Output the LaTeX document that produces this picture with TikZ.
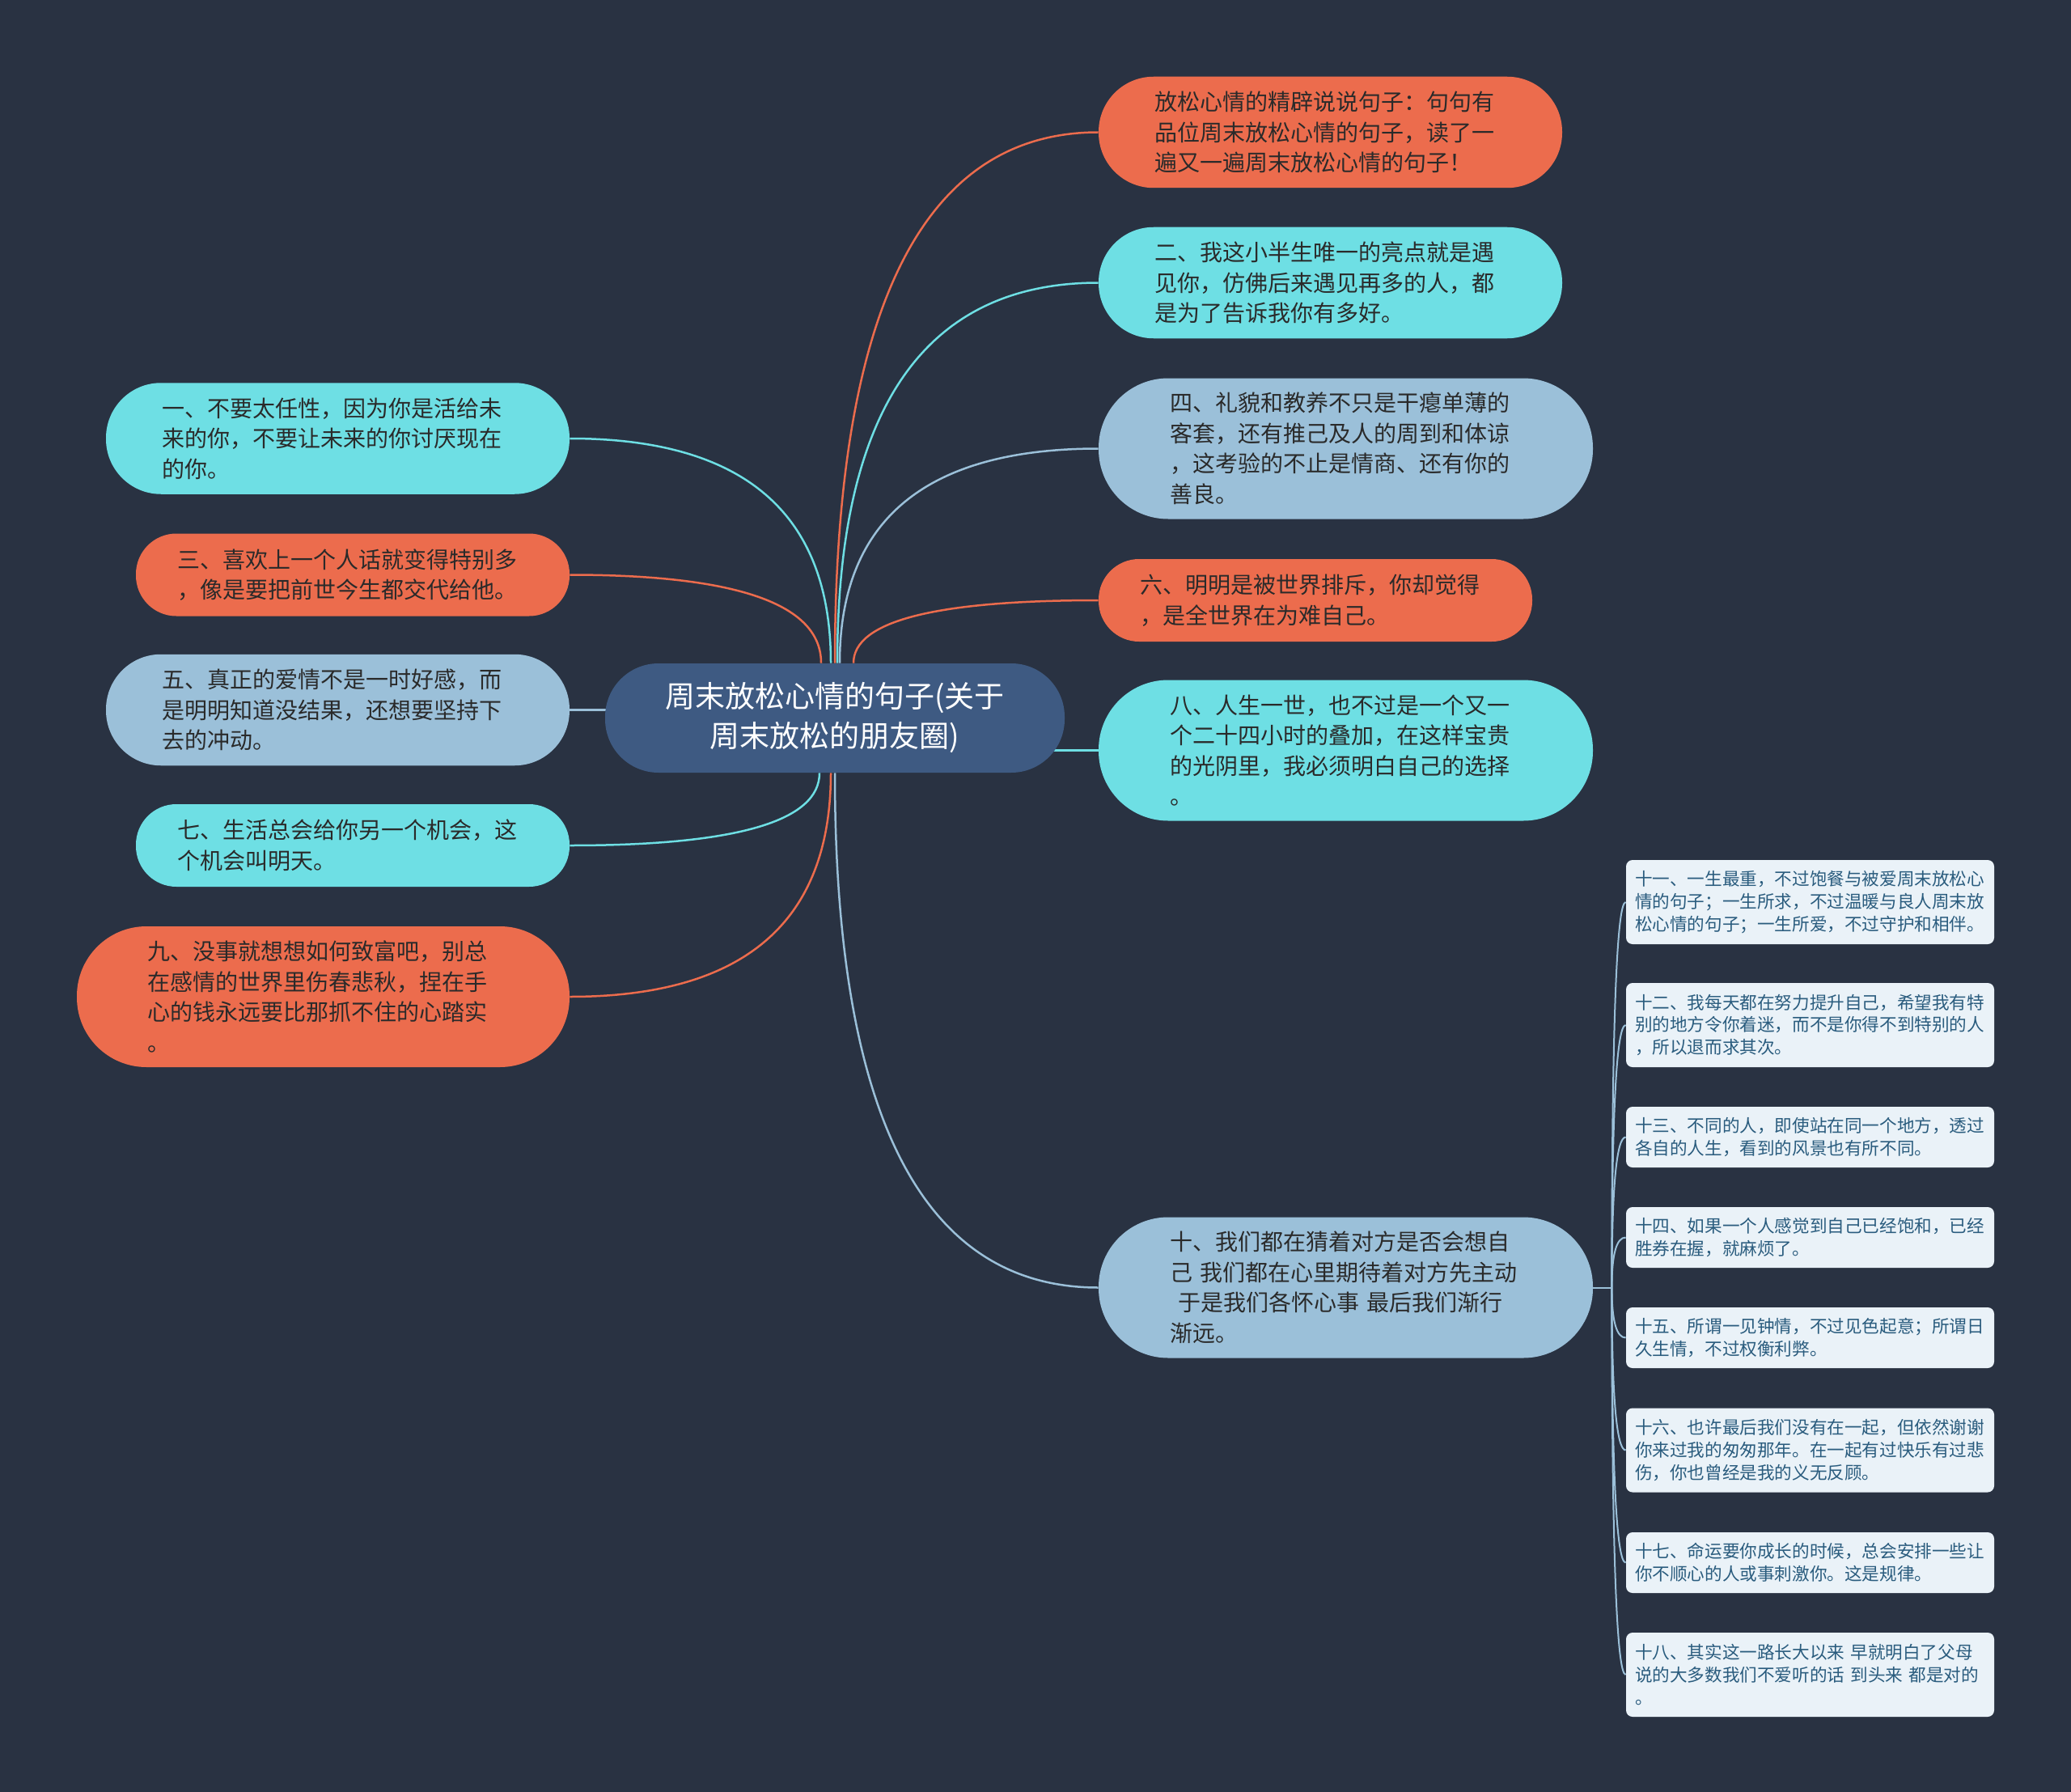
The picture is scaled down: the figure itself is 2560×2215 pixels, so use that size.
\documentclass[tikz,border=0pt]{standalone}
\usepackage{fontspec}
\newfontfamily\cjk{Noto Sans CJK SC}
\usetikzlibrary{calc}
\definecolor{bgc}{HTML}{293242}
\definecolor{orng}{HTML}{EC6C4D}
\definecolor{cyn}{HTML}{6EDFE4}
\definecolor{lblu}{HTML}{9BC0D9}
\definecolor{cent}{HTML}{3E5A82}
\definecolor{boxc}{HTML}{EAF2F8}
\definecolor{stxt}{HTML}{2A5C7E}
\definecolor{dtxt}{HTML}{2A2A2A}
\pgfdeclarelayer{back}
\pgfdeclarelayer{links}
\pgfsetlayers{back,links,main}
\newcommand\mmlink[3]{%
  \coordinate (mmk) at (#2|-#3);
  \draw[#1] (#2) .. controls ($(#2)!0.667!(mmk)$) and ($(#3)!0.667!(mmk)$) .. (#3);}
\tikzset{
  central/.style={fill=cent, text=white, rounded corners=33pt, minimum width=284pt,
    minimum height=67.5pt, inner sep=0pt, align=center,
    font=\cjk\fontsize{18.5}{24.5}\selectfont},
  topic/.style={inner sep=0pt, text=dtxt, align=left, text width=217pt,
    font=\cjk\fontsize{14}{18.75}\selectfont},
  pillA/.style={topic, minimum width=286.5pt, minimum height=68.75pt, rounded corners=34pt},
  pillB/.style={topic, minimum width=305.5pt, minimum height=87pt, rounded corners=43pt},
  pillC/.style={topic, minimum width=268pt, minimum height=51pt, rounded corners=25pt},
  pillD/.style={topic, minimum width=304.5pt, minimum height=87pt, rounded corners=43pt},
  sbox/.style={fill=boxc, text=stxt, rounded corners=4pt, inner sep=0pt,
    minimum width=227.5pt, text width=216.5pt, align=left,
    font=\cjk\fontsize{10.8}{13.9}\selectfont},
  sboxA/.style={sbox, minimum height=52pt},
  sboxB/.style={sbox, minimum height=37.5pt},
  lorng/.style={draw=orng, line width=1.25pt},
  lcyn/.style={draw=cyn, line width=1.25pt},
  llblu/.style={draw=lblu, line width=1.25pt},
  slink/.style={draw=lblu, line width=1pt},
}
\begin{document}
\begin{tikzpicture}[x=0.5pt,y=-0.5pt]
\begin{pgfonlayer}{back}
\fill[bgc] (0,0) rectangle (2560,2215);
\end{pgfonlayer}
\useasboundingbox (0,0) rectangle (2560,2215);

% central
\node[central] (c) at (1032,887.5) {周末放松心情的句子(关于\\周末放松的朋友圈)};

% right topics
\node[pillA, fill=orng] (R1) at (1644.5,163.5) {放松心情的精辟说说句子：句句有\\品位周末放松心情的句子，读了一\\遍又一遍周末放松心情的句子！};
\node[pillA, fill=cyn] (R2) at (1644.5,349.5) {二、我这小半生唯一的亮点就是遇\\见你，仿佛后来遇见再多的人，都\\是为了告诉我你有多好。};
\node[pillB, fill=lblu] (R3) at (1663.5,554.5) {四、礼貌和教养不只是干瘪单薄的\\客套，还有推己及人的周到和体谅\\，这考验的不止是情商、还有你的\\善良。};
\node[pillC, fill=orng] (R4) at (1626,742) {六、明明是被世界排斥，你却觉得\\，是全世界在为难自己。};
\node[pillB, fill=cyn] (R5) at (1663.5,927.5) {八、人生一世，也不过是一个又一\\个二十四小时的叠加，在这样宝贵\\的光阴里，我必须明白自己的选择\\。};
\node[pillB, fill=lblu] (R6) at (1663.5,1591.5) {十、我们都在猜着对方是否会想自\\己 我们都在心里期待着对方先主动\\\hspace*{0.35em}于是我们各怀心事 最后我们渐行\\渐远。};

% left topics
\node[pillA, fill=cyn] (L1) at (417.5,542) {一、不要太任性，因为你是活给未\\来的你，不要让未来的你讨厌现在\\的你。};
\node[pillC, fill=orng] (L2) at (436,710.5) {三、喜欢上一个人话就变得特别多\\，像是要把前世今生都交代给他。};
\node[pillA, fill=lblu] (L3) at (417.5,877.5) {五、真正的爱情不是一时好感，而\\是明明知道没结果，还想要坚持下\\去的冲动。};
\node[pillC, fill=cyn] (L4) at (436,1045) {七、生活总会给你另一个机会，这\\个机会叫明天。};
\node[pillD, fill=orng] (L5) at (399.5,1232) {九、没事就想想如何致富吧，别总\\在感情的世界里伤春悲秋，捏在手\\心的钱永远要比那抓不住的心踏实\\。};

% sub topics of 十
\node[sboxA] (S11) at (2237.5,1115) {十一、一生最重，不过饱餐与被爱周末放松心\\情的句子；一生所求，不过温暖与良人周末放\\松心情的句子；一生所爱，不过守护和相伴。};
\node[sboxA] (S12) at (2237.5,1267) {十二、我每天都在努力提升自己，希望我有特\\别的地方令你着迷，而不是你得不到特别的人\\，所以退而求其次。};
\node[sboxB] (S13) at (2237.5,1405.5) {十三、不同的人，即使站在同一个地方，透过\\各自的人生，看到的风景也有所不同。};
\node[sboxB] (S14) at (2237.5,1529.5) {十四、如果一个人感觉到自己已经饱和，已经\\胜券在握，就麻烦了。};
\node[sboxB] (S15) at (2237.5,1653.5) {十五、所谓一见钟情，不过见色起意；所谓日\\久生情，不过权衡利弊。};
\node[sboxA] (S16) at (2237.5,1792.5) {十六、也许最后我们没有在一起，但依然谢谢\\你来过我的匆匆那年。在一起有过快乐有过悲\\伤，你也曾经是我的义无反顾。};
\node[sboxB] (S17) at (2237.5,1931.5) {十七、命运要你成长的时候，总会安排一些让\\你不顺心的人或事刺激你。这是规律。};
\node[sboxA] (S18) at (2237.5,2070) {十八、其实这一路长大以来 早就明白了父母\\说的大多数我们不爱听的话 到头来 都是对的\\。};

% anchor points on the central topic
\coordinate (t1) at ([xshift=-8.5pt]c.north);
\coordinate (t2) at ([xshift=-2.5pt]c.north);
\coordinate (t3) at ([xshift=0pt]c.north);
\coordinate (t4) at ([xshift=1.5pt]c.north);
\coordinate (t5) at ([xshift=3pt]c.north);
\coordinate (t6) at ([xshift=11.5pt]c.north);
\coordinate (b1) at ([xshift=-9.5pt]c.south);
\coordinate (b2) at ([xshift=-2.5pt]c.south);
\coordinate (b3) at ([xshift=0pt]c.south);
\coordinate (tr) at ([xshift=11.5pt]R6.east);

\begin{pgfonlayer}{links}
\mmlink{lorng}{t1}{L2.east}
\mmlink{lcyn}{t2}{L1.east}
\mmlink{lorng}{t3}{R1.west}
\mmlink{lcyn}{t4}{R2.west}
\mmlink{llblu}{t5}{R3.west}
\mmlink{lorng}{t6}{R4.west}
\draw[llblu] (L3.east) -- (c.center|-L3.east);
\draw[lcyn] (c.center|-R5.west) -- (R5.west);
\mmlink{lcyn}{b1}{L4.east}
\mmlink{lorng}{b2}{L5.east}
\mmlink{llblu}{b3}{R6.west}
\draw[slink] (R6.east) -- (tr);
\foreach \s in {S11,S12,S13,S14,S15,S16,S17,S18}{\mmlink{slink}{tr}{\s.west}}
\end{pgfonlayer}
\end{tikzpicture}
\end{document}
